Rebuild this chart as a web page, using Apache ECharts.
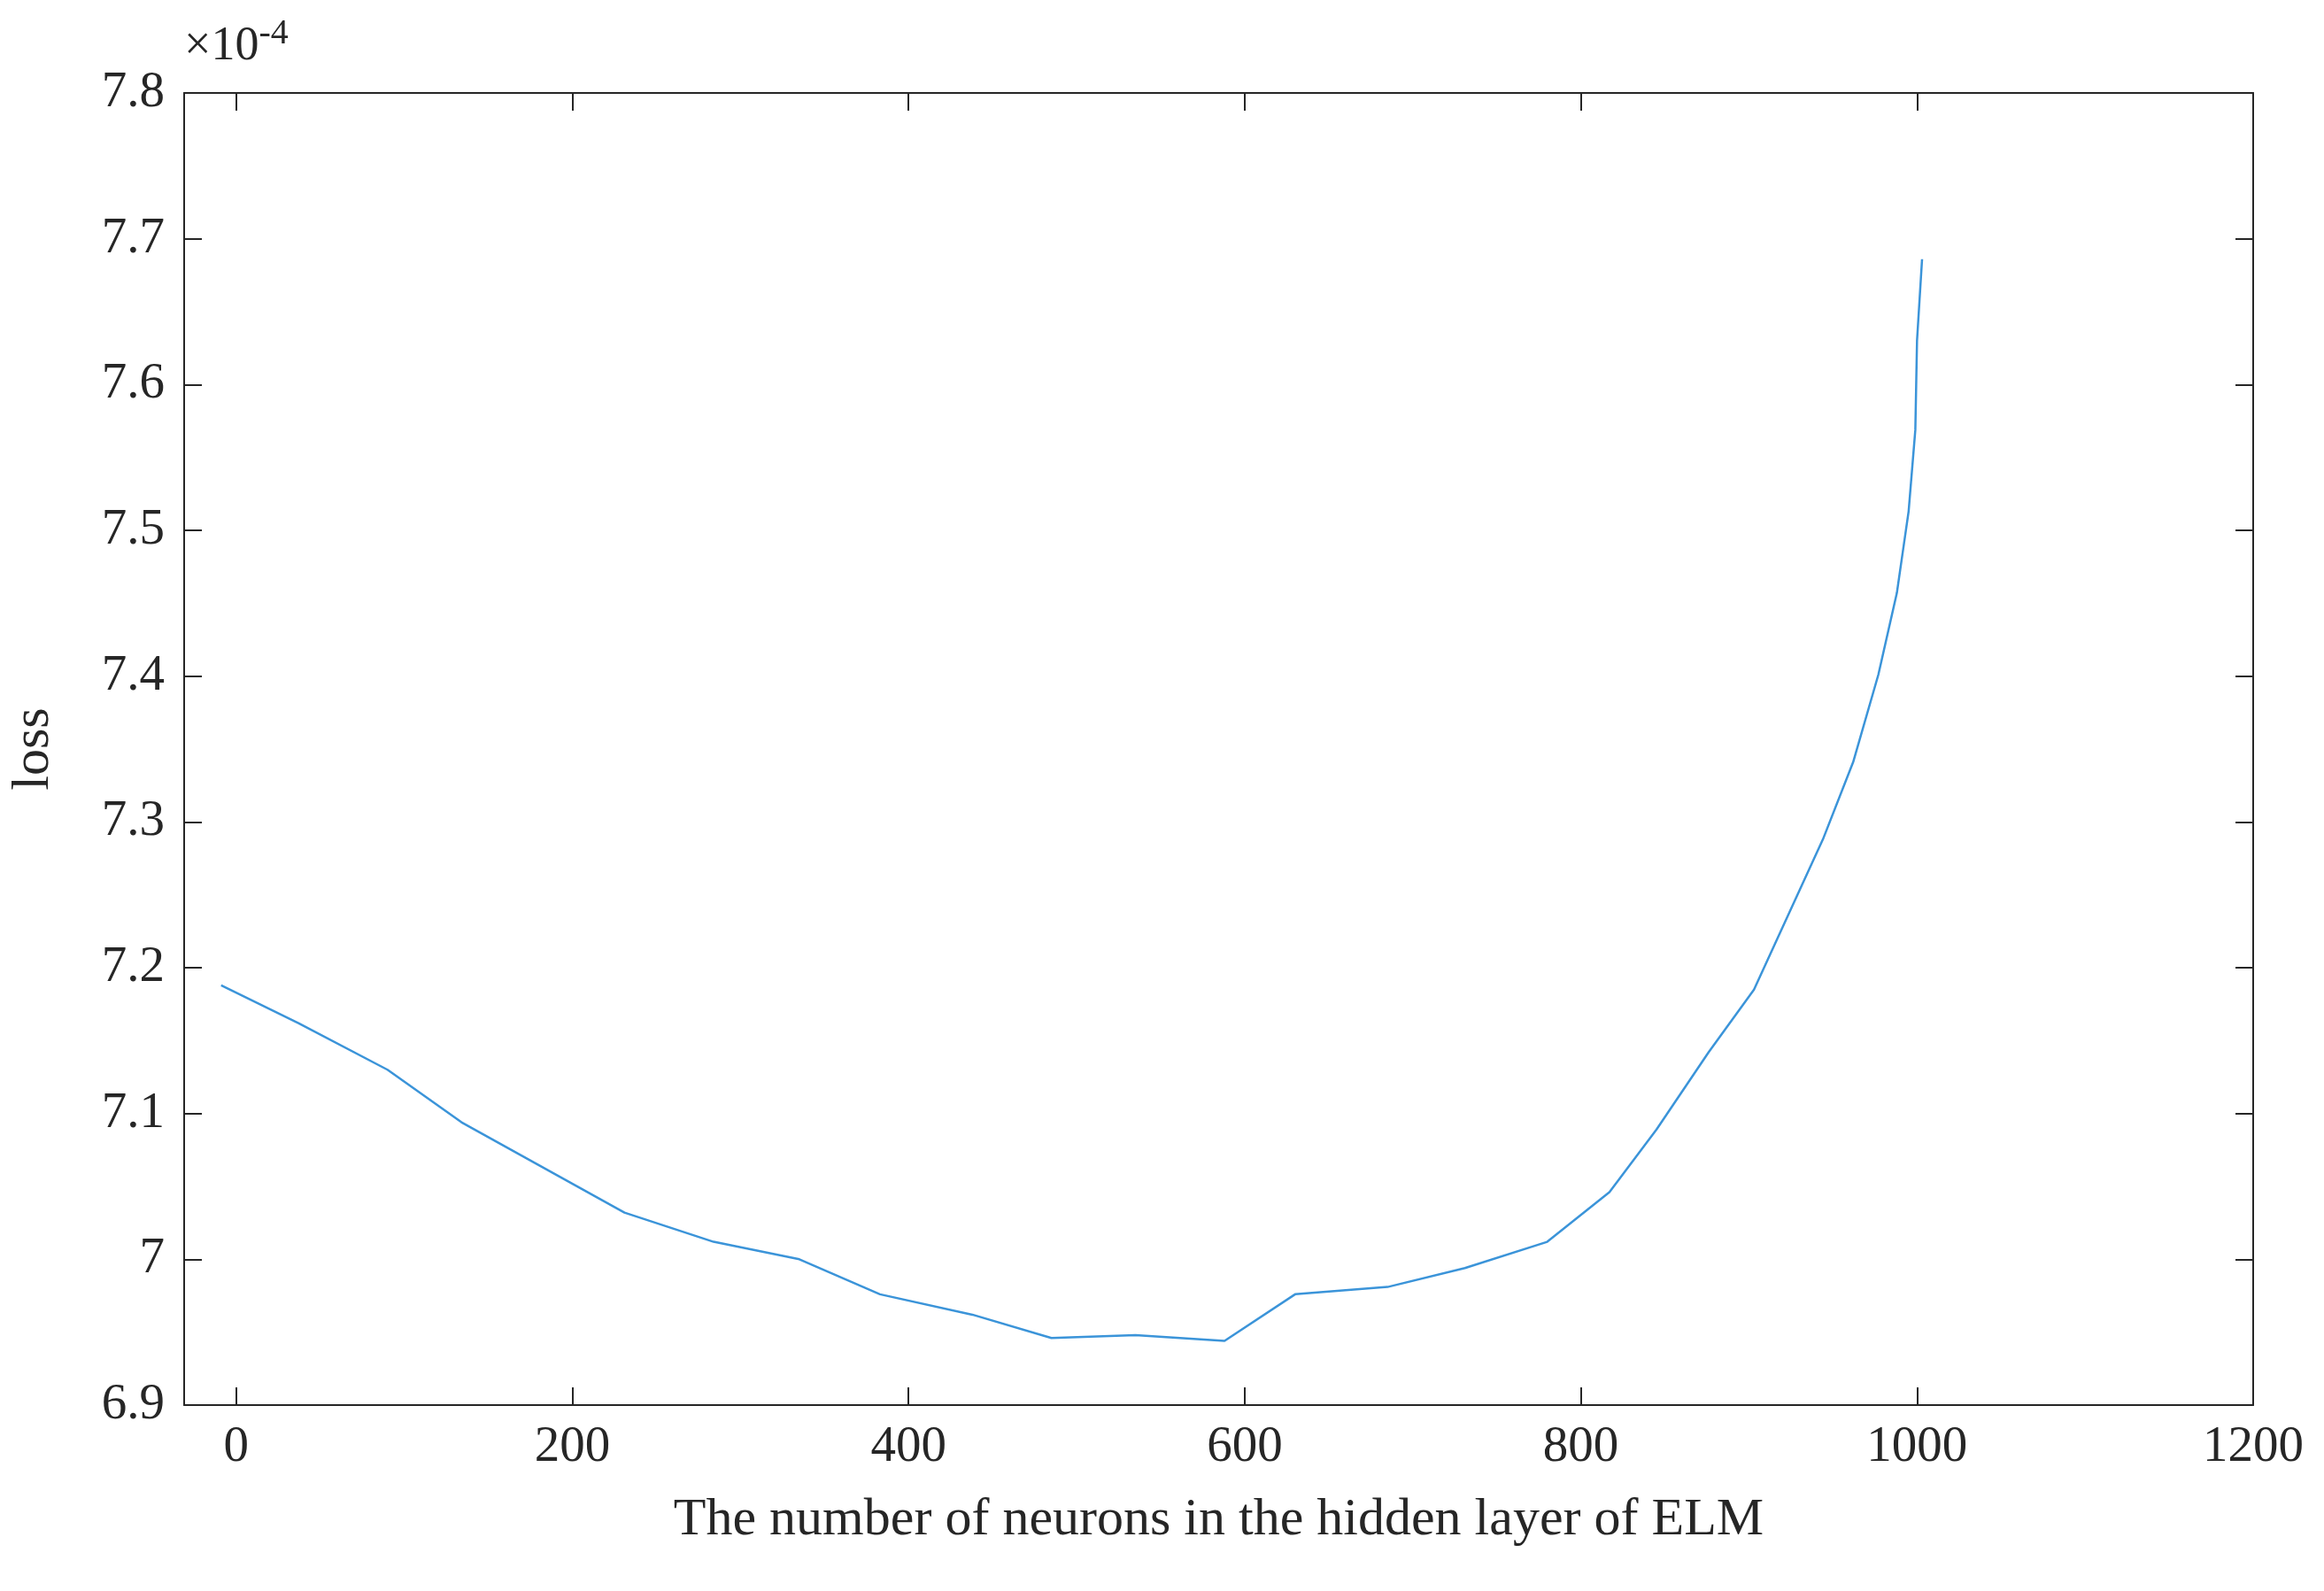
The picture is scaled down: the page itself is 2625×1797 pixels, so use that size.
<!DOCTYPE html>
<html><head><meta charset="utf-8">
<script src="https://cdn.jsdelivr.net/npm/echarts@6/dist/echarts.min.js"></script>
<style>html,body{margin:0;background:#fff}#c{width:2625px;height:1797px}</style>
</head><body><div id="c"></div>
<script>
const xs = [-9,37,90,134,231,284,335,383,438,485,535,588,630,685,731,780,817,845,876,903,944,962,977,988,995,999,1000,1003];
const ys = [7.188,7.162,7.130,7.094,7.032,7.012,7.000,6.976,6.962,6.946,6.948,6.944,6.976,6.981,6.994,7.012,7.046,7.089,7.142,7.185,7.288,7.341,7.401,7.457,7.513,7.569,7.630,7.686];
const xTicks = [0,200,400,600,800,1000,1200];
const yTicks = [6.9,7.0,7.1,7.2,7.3,7.4,7.5,7.6,7.7,7.8];
const font = 'Liberation Serif';
const data = xs.map((x,i)=>[x,ys[i]]);
const axLine = {show:true,onZero:false,lineStyle:{color:'#262626',width:2}};
const tick = {inside:true,length:20,lineStyle:{color:'#262626',width:2}};
function xa(pos,show){return {type:'value',position:pos,min:-31,max:1200,
  axisLine:axLine,splitLine:{show:false},
  axisTick:Object.assign({customValues:xTicks},tick),
  axisLabel:{show:show,customValues:xTicks,fontFamily:font,fontSize:57,color:'#262626',margin:20,formatter:v=>String(v)},
  name:show?'The number of neurons in the hidden layer of ELM':'',nameLocation:'middle',nameGap:100,
  nameTextStyle:{fontFamily:font,fontSize:60,color:'#262626'}};}
function ya(pos,show){return {type:'value',position:pos,min:6.9,max:7.8,interval:0.1,
  axisLine:axLine,splitLine:{show:false},axisTick:tick,
  axisLabel:{show:show,fontFamily:font,fontSize:57,color:'#262626',margin:22,formatter:v=>String(+v.toFixed(1))},
  name:show?'loss':'',nameLocation:'middle',nameGap:140,
  nameTextStyle:{fontFamily:font,fontSize:60,color:'#262626'}};}
const chart = echarts.init(document.getElementById('c'));
chart.setOption({
  backgroundColor:'#fff',
  grid:{left:206,right:80,top:105,bottom:210},
  xAxis:[xa('bottom',true),xa('top',false)],
  yAxis:[ya('left',true),ya('right',false)],
  graphic:[{type:'text',left:208,top:18,style:{text:'×10{s|-4}',fontFamily:font,fontSize:54,fill:'#262626',
    rich:{s:{fontSize:40,verticalAlign:'top',padding:[0,0,30,0],fontFamily:font}}}}],
  series:[{type:'line',data:data,showSymbol:false,lineStyle:{color:'#3b94d9',width:2.5},animation:false}]
});
</script></body></html>
